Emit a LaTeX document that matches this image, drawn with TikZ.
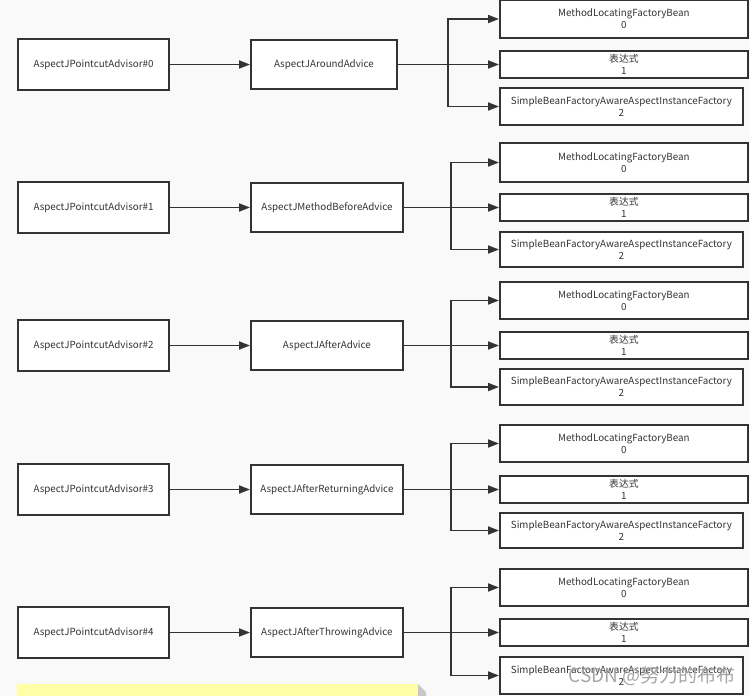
\documentclass[tikz,border=0pt]{standalone}
\usepackage{fontspec}
\setmainfont{Noto Sans CJK SC}
\usetikzlibrary{arrows.meta}
\definecolor{bg}{HTML}{F9F9F9}
\definecolor{ln}{HTML}{333333}
\definecolor{tx}{HTML}{333333}
\definecolor{note}{HTML}{FFFFA8}
\definecolor{fold}{HTML}{C8C8C8}
\tikzset{
  box/.style={draw=ln, line width=1.8pt, fill=white, inner sep=0pt, text=tx,
    font=\fontsize{9.8}{12}\selectfont, align=center},
  arr/.style={draw=ln, line width=1.8pt, -{Triangle[length=11pt,width=8pt]}},
  ln/.style={draw=ln, line width=1.8pt}
}
\begin{document}
\begin{tikzpicture}[x=1pt,y=-1pt]
\fill[bg] (0,0) rectangle (750,696);
\useasboundingbox (0,0) rectangle (750,696);

% note at bottom
\fill[note] (17,684) rectangle (418,696);
\fill[fold] (418,684) -- (426,692) -- (426,696) -- (418,696) -- cycle;

\newcommand{\myrow}[9]{%
  \node[box, minimum width=151pt, minimum height=51pt] (a#1) at (93.5,#2) {AspectJPointcutAdvisor\##1};
  \node[box, minimum width=#3pt, minimum height=49pt, anchor=west] (m#1) at (250,#2) {#4};
  \node[box, minimum width=248pt, minimum height=#8pt, anchor=west] (p#1) at (499,#5) {MethodLocatingFactoryBean\\0};
  \node[box, minimum width=248pt, minimum height=27pt, anchor=west] (q#1) at (499,#6) {表达式\\1};
  \node[box, minimum width=243pt, minimum height=#9pt, anchor=west] (s#1) at (499,#7) {SimpleBeanFactoryAwareAspectInstanceFactory\\2};
  \draw[arr] (a#1) -- (m#1);
  \draw[arr] (m#1.east) -- (q#1.west);
}
\myrow{0}{64.5}{146}{AspectJAroundAdvice}{19}{64.5}{106.5}{38}{37}
\myrow{1}{207.5}{152}{AspectJMethodBeforeAdvice}{162.5}{207.5}{249.5}{39}{35}
\myrow{2}{345.5}{152}{AspectJAfterAdvice}{300.5}{345.5}{387}{37}{36}
\myrow{3}{489.5}{152}{AspectJAfterReturningAdvice}{443.5}{489.5}{530.5}{37}{35}
\myrow{4}{632.5}{152}{AspectJAfterThrowingAdvice}{587.5}{632.5}{675.5}{37}{37}

\coordinate (j0) at (448,64.5);
\coordinate (j1) at (451,207.5);
\coordinate (j2) at (451,345.5);
\coordinate (j3) at (451,489.5);
\coordinate (j4) at (451,632.5);
\foreach \i in {0,...,4}{
  \draw[arr] (j\i) |- (p\i.west);
  \draw[arr] (j\i) |- (s\i.west);
}

% watermark
\node[font=\fontsize{19}{19}\selectfont, text=gray!70, anchor=east, inner sep=0pt] (wm) at (736,676) {CSDN @努力的布布};
\end{tikzpicture}
\end{document}
